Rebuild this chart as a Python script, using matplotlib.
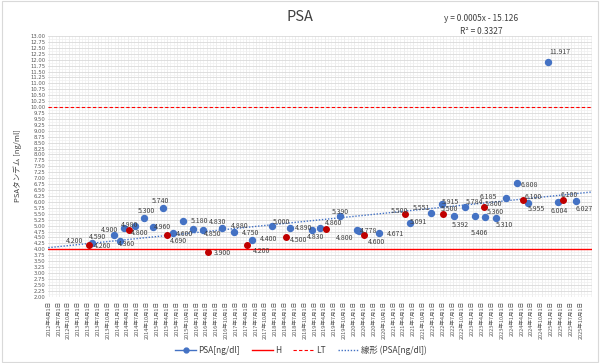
import datetime as dt
import matplotlib
matplotlib.use("Agg")
import matplotlib.pyplot as plt
import matplotlib.dates as mdates
from matplotlib.lines import Line2D
from matplotlib.patches import Rectangle
import numpy as np

plt.rcParams['font.family'] = ['Noto Sans CJK JP', 'DejaVu Sans']

# ---------------- data ----------------
dates = [
    "2013-04-07", "2013-05-07", "2013-11-24", "2014-01-16", "2014-02-25",
    "2014-04-12", "2014-06-07", "2014-08-27", "2014-11-24", "2015-02-22",
    "2015-03-28", "2015-05-28", "2015-08-29", "2015-11-24", "2016-02-25",
    "2016-04-11", "2016-08-21", "2016-12-11", "2017-04-13", "2017-05-27",
    "2017-11-25", "2018-04-07", "2018-05-14", "2018-12-01", "2019-02-16",
    "2019-04-10", "2019-08-20", "2020-01-25", "2020-02-12", "2020-04-02",
    "2020-08-18", "2021-04-16", "2021-05-30", "2021-12-08", "2022-03-20",
    "2022-03-29", "2022-07-15", "2022-10-22", "2023-01-22", "2023-04-16",
    "2023-04-28", "2023-08-05", "2023-11-06", "2024-02-13", "2024-04-14",
    "2024-05-28", "2024-11-26", "2025-03-02", "2025-04-17", "2025-08-16",
]
psa = [
    4.200, 4.260, 4.590, 4.360, 4.900,
    4.800, 4.980, 5.300, 4.960, 5.740,
    4.600, 4.690, 5.180, 4.850, 4.830,
    3.900, 4.880, 4.750, 4.200, 4.400,
    5.000, 4.500, 4.890, 4.830, 4.880,
    4.860, 5.390, 4.800, 4.778, 4.600,
    4.671, 5.500, 5.091, 5.551, 5.915,
    5.500, 5.392, 5.784, 5.406, 5.800,
    5.360, 5.310, 6.185, 6.808, 6.100,
    5.955, 11.917, 6.004, 6.100, 6.027,
]
# annual health-check measurements (drawn in dark red)
checkup = [
    True, False, False, False, False,
    True, False, False, False, False,
    True, False, False, False, False,
    True, False, False, True, False,
    False, True, False, False, False,
    True, False, False, False, True,
    False, True, False, False, False,
    True, False, False, False, True,
    False, False, False, False, True,
    False, False, False, True, False,
]
h_value = 4.0
lt_value = 10.0
series_name = "PSA[ng/dl]"

# label offsets (pixels: right, down); None = no label
label_offsets = [
    (-14, -4), (10, 3), (-16, 2), (7, 3), (-14.5, 2),
    (10.5, 2.4), (-5, -1.5), (3, -7), (9.5, 0), (-2.5, -6.6),
    (18, -1), (5, 8), (16.7, 0), (20.3, 4.7), (15.3, -8),
    (15, 1), (18, -2.3), (17, 1.3), (14.4, 6), (16.3, -1.3),
    (10, -3.7), (12.3, 2.6), (14, -0.6), (4, 7), None,
    (7.6, -6), (0, -4), (-12, 7.3), (9.3, 0), (12.4, 7.4),
    (16.7, 0.6), (-5.6, -3), (9, -1.3), (-9, -4.4), (8.3, -2.3),
    (6.8, -5), (5.7, 9), (9.7, -5.4), (5, 17), (9.3, -2.3),
    (9.7, -5.3), (9, 6.4), (-17.7, -0.7), (12.3, 2), (9.7, -2.3),
    (8.7, 6), (12.3, -9.3), (1.5, 9), (6.7, -5), (8.3, 8),
]

# ---------------- figure ----------------
W, H = 600, 363
fig = plt.figure(figsize=(W / 100, H / 100), dpi=100)
ax_left, ax_right, ax_top, ax_bottom = 48.3, 591.7, 36.0, 296.7
ax = fig.add_axes([ax_left / W, 1 - ax_bottom / H,
                   (ax_right - ax_left) / W, (ax_bottom - ax_top) / H])

x = mdates.date2num([dt.datetime.strptime(d, "%Y-%m-%d") for d in dates])
y = np.array(psa)
red = np.array(checkup)

x0 = mdates.date2num(dt.datetime(2012, 4, 1)) - 6
x1 = mdates.date2num(dt.datetime(2026, 1, 9))
ax.set_xlim(x0, x1)
ax.set_ylim(2, 13)

# ticks
tick_dates = []
yy, mm = 2012, 4
while (yy, mm) <= (2025, 10):
    tick_dates.append(dt.datetime(yy, mm, 1))
    mm += 3
    if mm > 12:
        mm -= 12
        yy += 1
ax.set_xticks(mdates.date2num(tick_dates))
ax.set_xticklabels([f"{d.year}年{d.month}月1日" for d in tick_dates],
                   rotation=90, fontsize=4, color="#595959")
minor_dates = []
yy, mm = 2012, 4
while (yy, mm) <= (2026, 1):
    minor_dates.append(dt.datetime(yy, mm, 1))
    mm += 1
    if mm > 12:
        mm = 1
        yy += 1
ax.set_xticks(mdates.date2num(minor_dates), minor=True)

yt = np.arange(2, 13.001, 0.25)
ax.set_yticks(yt)
ax.set_yticklabels([f"{v:.2f}" for v in yt], fontsize=3.8, color="#595959",
                   family="DejaVu Sans")
ax.set_yticks(np.arange(2, 13.001, 0.125), minor=True)
ax.tick_params(axis="both", which="both", length=0)
ax.tick_params(axis="x", pad=3)
ax.tick_params(axis="y", pad=2)

ax.grid(True, which="major", axis="y", color="#d9d9d9", lw=0.6)
ax.grid(True, which="minor", axis="y", color="#f0f0f0", lw=0.5)
ax.grid(True, which="major", axis="x", color="#e6e6e6", lw=0.5)
ax.grid(True, which="minor", axis="x", color="#f0f0f0", lw=0.5)
ax.set_axisbelow(True)
for s in ax.spines.values():
    s.set_visible(False)

blue = "#4472C4"
dark_red = "#C00000"

# reference lines
ax.axhline(h_value, color="#FF0000", lw=1.0, zorder=2)
ax.axhline(lt_value, color="#FF0000", lw=0.8, ls=(0, (3, 2)), zorder=2)

# trend line
coef = np.polyfit(x, y, 1)
xs = np.array([x0, x1])
ax.plot(xs, np.polyval(coef, xs), color=blue, lw=1.0, ls=(0, (1, 1.2)), zorder=3)

# points
ax.plot(x[~red], y[~red], "o", color=blue, ms=4.3, ls="none", zorder=4)
ax.plot(x[red], y[red], "o", color=dark_red, ms=4.0, ls="none", zorder=4)

for xi, yi, off in zip(x, y, label_offsets):
    if off is None:
        continue
    ax.annotate(f"{yi:.3f}", (xi, yi), xytext=(off[0], -off[1]),
                textcoords="offset pixels", ha="center", va="center",
                fontsize=5, color="#404040", zorder=5)

# texts
fig.text(0.5, 1 - 17 / H, "PSA", ha="center", va="center", fontsize=10.5, color="#404040")
fig.text(481 / W, 1 - 18.3 / H, "y = 0.0005x - 15.126", ha="center", va="center",
         fontsize=6, color="#404040")
fig.text(481 / W, 1 - 31.7 / H, "R² = 0.3327", ha="center", va="center",
         fontsize=6, color="#404040")
fig.text(18 / W, 1 - 166 / H, "PSAタンデム [ng/ml]", rotation=90, ha="center", va="center",
         fontsize=5.5, color="#404040")

handles = [
    Line2D([], [], color=blue, lw=1, marker="o", ms=3.5),
    Line2D([], [], color="#FF0000", lw=1),
    Line2D([], [], color="#FF0000", lw=0.8, ls=(0, (3, 2))),
    Line2D([], [], color=blue, lw=1, ls=(0, (1, 1.2))),
]
labels = [series_name, "H", "LT", f"線形 ({series_name})"]
fig.legend(handles, labels, loc="center", bbox_to_anchor=(301 / W, 1 - 350 / H), ncol=4,
           frameon=False, fontsize=6, handlelength=2.5, handletextpad=0.3,
           columnspacing=1.4, labelcolor="#404040")

fig.patches.append(Rectangle((0.003, 0.004), 0.994, 0.992, transform=fig.transFigure,
                             fill=False, edgecolor="#d9d9d9", lw=0.8))

fig.savefig("out.png", dpi=100)
